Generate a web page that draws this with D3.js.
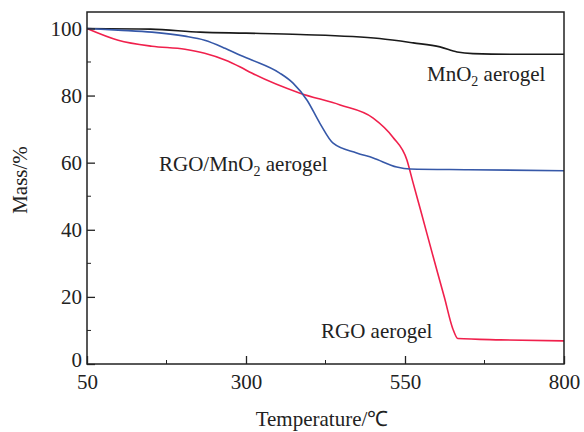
<!DOCTYPE html>
<meta charset="utf-8">
<style>
body { margin: 0; background: #fff; }
text { font-family: "Liberation Serif", "Times New Roman", serif; fill: #222; }
.curve { fill: none; stroke-width: 1.6px; }
</style>
<body>
<script src="https://d3js.org/d3.v7.min.js"></script>
<script>
// temperature (°C) / mass (%)
var mno2Temp = [50, 150, 228, 300, 385, 510, 563, 605, 632, 657, 720, 800];
var mno2Mass = [100, 99.8, 98.9, 98.6, 98.2, 97.0, 95.7, 94.5, 93.0, 92.5, 92.3, 92.3];

var rgoMnTemp = [50, 99, 152, 204, 235, 267, 291, 309, 353, 374, 396, 416, 437, 474, 500, 537, 558, 650, 800];
var rgoMnMass = [100, 99.5, 98.9, 97.7, 96.5, 94.1, 92.0, 90.6, 86.7, 83.7, 78.6, 71.8, 65.8, 62.9, 61.4, 58.7, 58.1, 57.9, 57.6];

var rgoTemp = [50, 99, 152, 204, 235, 267, 291, 309, 385, 448, 500, 531, 553, 562, 575, 595, 612, 625, 633, 700, 800];
var rgoMass = [100, 96.5, 94.7, 93.8, 92.6, 90.6, 88.5, 86.7, 80.7, 77.2, 73.3, 67.6, 60.8, 54.5, 45.5, 31.5, 19.8, 10.6, 7.6, 7.2, 6.9];

var xTicks = [50, 300, 550, 800];
var xMinor = [175, 425, 675];
var yTicks = [0, 20, 40, 60, 80, 100];
var yMinor = [10, 30, 50, 70, 90];

var margin = {top: 12, right: 20, bottom: 68, left: 87},
    width = 564 - margin.left,
    height = 364 - margin.top;

var svg = d3.select("body").append("svg")
    .attr("width", 584)
    .attr("height", 432)
  .append("g")
    .attr("transform", "translate(" + margin.left + "," + margin.top + ")");

var x = d3.scaleLinear().domain([50, 800]).range([0, width]);
var y = d3.scaleLinear().domain([0, 104.9]).range([height, 0]);

var line = d3.line()
    .x(function(d) { return x(d[0]); })
    .y(function(d) { return y(d[1]); })
    .curve(d3.curveMonotoneX);

function pairs(t, m) { return t.map(function(v, i) { return [v, m[i]]; }); }

svg.append("path").datum(pairs(mno2Temp, mno2Mass))
    .attr("class", "curve").attr("stroke", "#1a1a1a").attr("d", line);
svg.append("path").datum(pairs(rgoTemp, rgoMass))
    .attr("class", "curve").attr("stroke", "#f0204c").attr("d", line);
svg.append("path").datum(pairs(rgoMnTemp, rgoMnMass))
    .attr("class", "curve").attr("stroke", "#3658a8").attr("d", line);

// frame
svg.append("rect")
    .attr("width", width).attr("height", height)
    .attr("fill", "none").attr("stroke", "#222").attr("stroke-width", 1.5);

// x axis, inward ticks
var xAxis = svg.append("g")
    .attr("transform", "translate(0," + height + ")")
    .call(d3.axisBottom(x).tickValues(xTicks).tickSize(-8).tickPadding(10));
xAxis.append("g").selectAll("line").data(xMinor).enter().append("line")
    .attr("x1", x).attr("x2", x).attr("y1", 0).attr("y2", -4).attr("stroke", "#222");

var yAxis = svg.append("g")
    .call(d3.axisLeft(y).tickValues(yTicks).tickSize(-8).tickPadding(5));
yAxis.append("g").selectAll("line").data(yMinor).enter().append("line")
    .attr("y1", y).attr("y2", y).attr("x1", 0).attr("x2", 4).attr("stroke", "#222");

svg.selectAll(".domain").remove();
svg.selectAll(".tick line").attr("stroke", "#222").attr("stroke-width", 1.3);
svg.selectAll(".tick text")
    .style("font-family", "'Liberation Serif', serif")
    .style("font-size", "21px")
    .attr("fill", "#222");
// lift the "0" a little so it clears the "50" below it
yAxis.selectAll(".tick").filter(function(d) { return d === 0; })
    .select("text").attr("dy", "0.1em");

// axis titles
svg.append("text")
    .attr("x", 322 - margin.left).attr("y", height + 62)
    .attr("text-anchor", "middle").style("font-size", "21px")
    .text("Temperature/℃");
svg.append("text")
    .attr("transform", "translate(-60," + (height / 2 - 8) + ") rotate(-90)")
    .attr("text-anchor", "middle").style("font-size", "21px")
    .text("Mass/%");

// curve labels
var lbl = [
  {t: "MnO", s: "2", r: " aerogel", x: 427, y: 81},
  {t: "RGO/MnO", s: "2", r: " aerogel", x: 159, y: 171},
  {t: "RGO aerogel", s: "", r: "", x: 321, y: 338}
];
lbl.forEach(function(d) {
  var tx = svg.append("text")
      .attr("x", d.x - margin.left).attr("y", d.y - margin.top)
      .style("font-size", "21px");
  tx.append("tspan").text(d.t);
  if (d.s) {
    tx.append("tspan").attr("dy", 5).style("font-size", "14px").text(d.s);
    tx.append("tspan").attr("dy", -5).text(d.r);
  }
});
</script>
</body>
